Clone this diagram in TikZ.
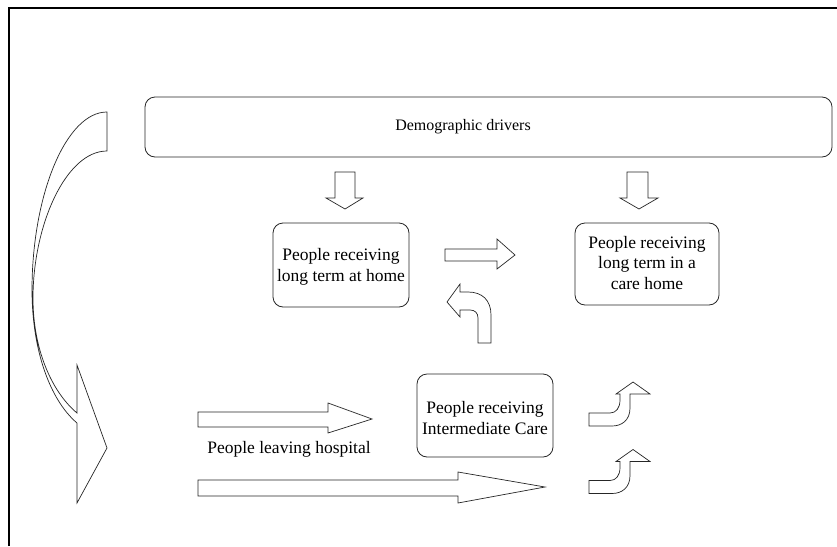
\documentclass[tikz,border=0pt]{standalone}
\usepackage{fontspec}
\setmainfont{Liberation Serif}
\begin{document}
\begin{tikzpicture}[x=1pt,y=-1pt,
  box/.style={draw=black!85,line width=0.8pt,rounded corners=10pt},
  lbl/.style={align=center,font=\fontsize{17.5}{20.5}\selectfont,inner sep=0pt},
  blk/.style={draw=black!85,line width=0.7pt,line join=miter,fill=white}]
\useasboundingbox (0,0) rectangle (837,546);
% frame
\draw[line width=2.2pt] (9,546) -- (9,8) -- (837,8);
% boxes
\draw[box] (145,97) rectangle (832,157);
\node[lbl,font=\fontsize{16}{19}\selectfont] (dem) at (463,127) {Demographic drivers};
\draw[box] (273,223) rectangle (409,307);
\node[lbl] (home) at (341,267) {People receiving\\long term at home};
\draw[box] (575,223) rectangle (719,305);
\node[lbl] (care) at (647,263) {People receiving\\long term in a\\care home};
\draw[box] (417,374) rectangle (553,457);
\node[lbl] (inter) at (485,418) {People receiving\\Intermediate Care};
\node[lbl] (hosp) at (289,449) {People leaving hospital};
% down arrows
\draw[blk] (335,172) -- (355,172) -- (355,198) -- (363,198) -- (345,209) -- (326,198) -- (335,198) -- cycle;
\draw[blk] (627,172) -- (648,172) -- (648,198) -- (658,198) -- (639,209) -- (620,198) -- (627,198) -- cycle;
% right arrow
\draw[blk] (445,249) -- (497,249) -- (497,239) -- (515,255) -- (497,269) -- (497,261) -- (445,261) -- cycle;
% bent up-left arrow
\draw[blk] (460,292) -- (468,292) .. controls (482,292) and (491,300) .. (491,315) -- (491,343) -- (478,343) -- (478,318) .. controls (478,313) and (475,310) .. (470,310) -- (460,310) -- (460,317) -- (447,302) -- (460,284) -- cycle;
% hospital arrows
\draw[blk] (198,412) -- (328,412) -- (328,403) -- (372,419) -- (328,433) -- (328,427) -- (198,427) -- cycle;
\draw[blk] (198,480) -- (458,480) -- (458,472) -- (545,487) -- (458,503) -- (458,496) -- (198,496) -- cycle;
% bent up-right arrows
\foreach \dy in {0,67.5}{
\draw[blk,yshift=-\dy pt] (589,413) -- (610,413) .. controls (616,413) and (620,408) .. (620,400) -- (620,394) -- (616,394) -- (633,382) -- (650,394) -- (630,394) -- (630,408) .. controls (630,420) and (622,426) .. (612,426) -- (589,426) -- cycle;
}
% big curved arrow
\draw[blk] (107,112) -- (107,151)
  .. controls (66,151) and (33,225) .. (33,298)
  .. controls (33,350) and (52,392) .. (77,413)
  -- (77,365) -- (107,448) -- (77,503) -- (77,423)
  .. controls (50,400) and (32,350) .. (32,290)
  .. controls (32,195) and (66,112) .. (107,112) -- cycle;
\end{tikzpicture}
\end{document}
